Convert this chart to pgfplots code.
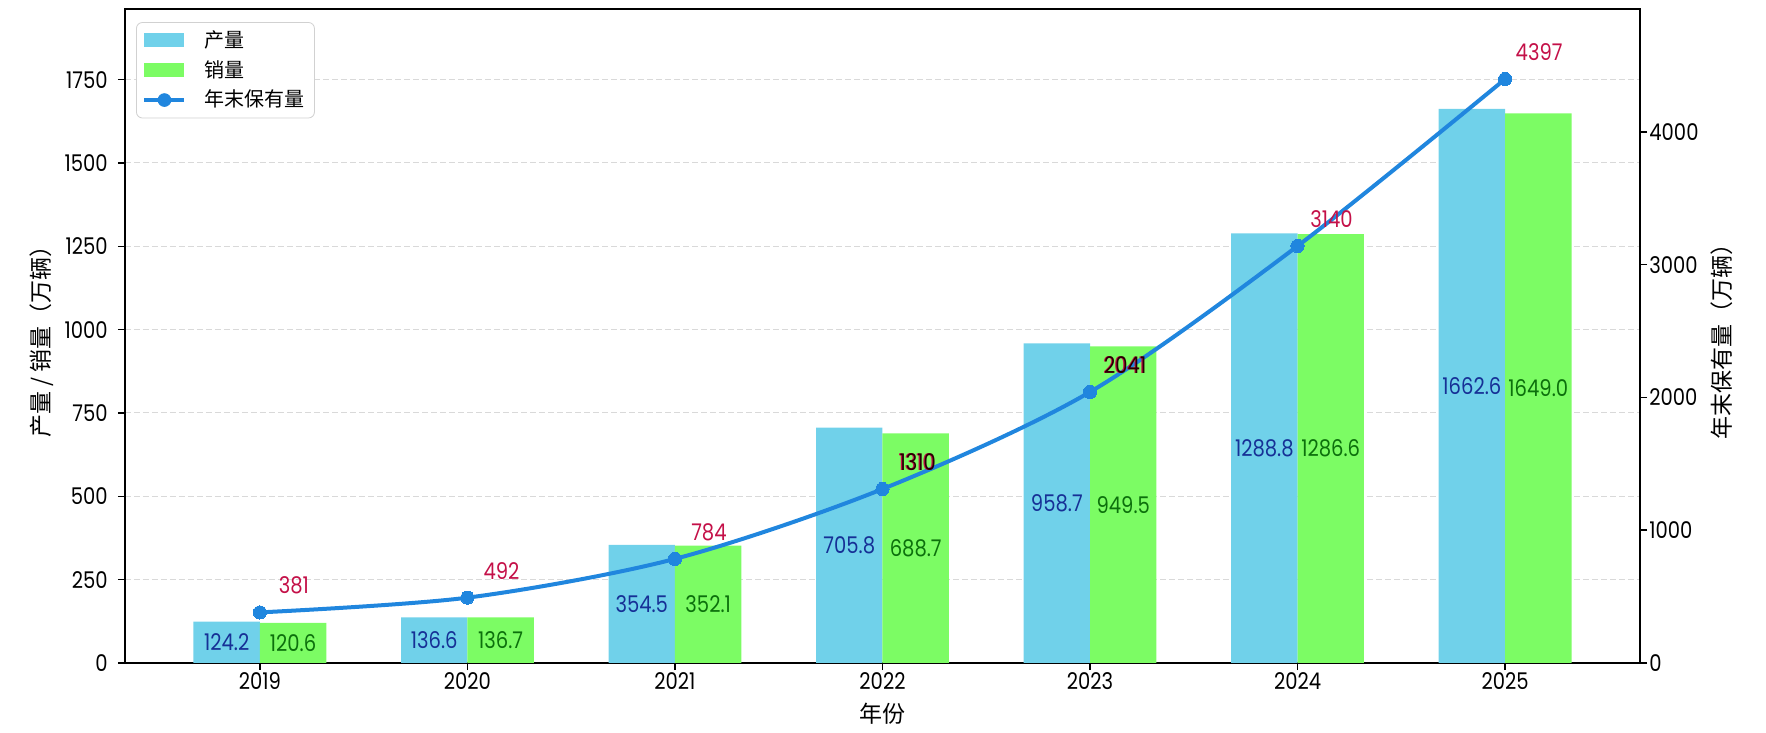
\documentclass[border=0pt]{standalone}
\usepackage{pgfplots}
\pgfplotsset{compat=1.18}
\usepackage{pgfplotstable}
\usepackage{fontspec}
\setmainfont[FakeStretch=0.85]{Poppins}
\newfontfamily\cjk{Noto Sans CJK SC}
\definecolor{barblue}{RGB}{112,209,234}
\definecolor{bargreen}{RGB}{124,252,100}
\definecolor{lineblue}{RGB}{32,134,222}
\definecolor{labred}{RGB}{196,16,72}
\definecolor{lblblue}{RGB}{22,48,150}
\definecolor{lblgreen}{RGB}{12,112,12}
\newcommand\tf{\fontsize{11.5}{13.8}\selectfont}
\newcommand\cf{\cjk\fontsize{11.5}{13.8}\selectfont}
\pgfplotstableread{
x p s h
0 124.2 120.6 381
1 136.6 136.7 492
2 354.5 352.1 784
3 705.8 688.7 1310
4 958.7 949.5 2041
5 1288.8 1286.6 3140
6 1662.6 1649.0 4397
}\data
\begin{document}
\begin{tikzpicture}
\path[use as bounding box] (-62.5pt,-35pt) rectangle (820.5pt,331.5pt);
\begin{axis}[
  width=757.5pt, height=327pt, scale only axis,
  xmin=-0.65, xmax=6.65, ymin=0, ymax=1962,
  xtick={0,1,2,3,4,5,6}, xticklabels={2019,2020,2021,2022,2023,2024,2025},
  ytick={0,250,500,750,1000,1250,1500,1750},
  xtick pos=bottom, ytick pos=left,
  tick align=outside, major tick length=3.5pt,
  axis line style={line width=0.9pt},
  tick style={line width=0.8pt, black},
  ymajorgrids, grid style={dash pattern=on 3pt off 1.5pt, black!15, line width=0.5pt},
  /pgf/number format/assume math mode=true, /pgf/number format/1000 sep={},
  ticklabel style={font=\tf, inner sep=0pt},
  xticklabel style={anchor=center, yshift=-5.5pt},
  yticklabel style={anchor=east, xshift=-5pt},
  xlabel={年份},
  xlabel style={at={([yshift=-25.5pt]axis description cs:0.5,0)}, anchor=center, font=\cf, inner sep=0pt},
  ylabel={产量 / 销量（万辆）},
  ylabel style={at={([xshift=-41.5pt]axis description cs:0,0.5)}, anchor=center, font=\cf, inner sep=0pt},
  legend cell align=left,
  legend style={at={(0.0073,0.980)}, anchor=north west, draw=black!18, rounded corners=3pt, fill=white,
    font=\cjk\fontsize{10}{12}\selectfont, inner xsep=3pt, inner ysep=2pt, row sep=1pt,
    /tikz/every odd column/.append style={column sep=7pt}},
]
\addplot[ybar, bar width=0.32, bar shift=-0.16, fill=barblue, draw=none,
  legend image code/.code={\fill[barblue, sharp corners] (0pt,-3.5pt) rectangle (20pt,3.5pt);}]
  table[x=x, y=p]{\data};
\addlegendentry{产量}
\addplot[ybar, bar width=0.32, bar shift=0.16, fill=bargreen, draw=none,
  legend image code/.code={\fill[bargreen, sharp corners] (0pt,-3.5pt) rectangle (20pt,3.5pt);}]
  table[x=x, y=s]{\data};
\addlegendentry{销量}
\addplot[forget plot, draw=none, mark=none, nodes near coords, point meta=explicit,
  every node near coord/.append style={font=\tf, text=lblblue, anchor=center,
    /pgf/number format/fixed, /pgf/number format/precision=1, /pgf/number format/fixed zerofill}]
  table[x expr=\thisrow{x}-0.16, y expr=\thisrow{p}/2, meta=p]{\data};
\addplot[forget plot, draw=none, mark=none, nodes near coords, point meta=explicit,
  every node near coord/.append style={font=\tf, text=lblgreen, anchor=center,
    /pgf/number format/fixed, /pgf/number format/precision=1, /pgf/number format/fixed zerofill}]
  table[x expr=\thisrow{x}+0.16, y expr=\thisrow{s}/2, meta=s]{\data};
\addlegendimage{legend image code/.code={\draw[lineblue, line width=2pt, sharp corners] (0pt,0pt) -- (20pt,0pt); \fill[lineblue] (10pt,0pt) circle (3.2pt);}}
\addlegendentry{年末保有量}
\end{axis}
\begin{axis}[
  width=757.5pt, height=327pt, scale only axis,
  xmin=-0.65, xmax=6.65, ymin=0, ymax=4924.6,
  axis x line=none, axis y line*=right,
  ytick={0,1000,2000,3000,4000},
  tick align=outside, major tick length=3.5pt,
  axis line style={line width=0.9pt},
  tick style={line width=0.8pt, black},
  /pgf/number format/assume math mode=true, /pgf/number format/1000 sep={},
  ticklabel style={font=\tf, inner sep=0pt},
  yticklabel style={anchor=west, xshift=1pt},
  ylabel={年末保有量（万辆）},
  ylabel style={at={([xshift=41pt]axis description cs:1,0.5)}, anchor=center, font=\cf, inner sep=0pt},
]
\addplot[smooth, color=lineblue, line width=2pt, mark=*, mark size=3.3pt,
  mark options={fill=lineblue, draw=lineblue, line width=0pt},
  nodes near coords, point meta=explicit,
  every node near coord/.append style={font=\tf, text=labred, anchor=center, xshift=17pt, yshift=13.5pt,
    /pgf/number format/fixed, /pgf/number format/precision=0}]
  table[x=x, y=h, meta=h]{\data};
\addplot[draw=none, mark=none, nodes near coords, point meta=explicit,
  every node near coord/.append style={font=\tf, text=black!85!red, anchor=center, xshift=17.6pt, yshift=13.5pt,
    /pgf/number format/fixed, /pgf/number format/precision=0}]
  coordinates {(3,1310) [1310] (4,2041) [2041]};
\end{axis}
\end{tikzpicture}
\end{document}
